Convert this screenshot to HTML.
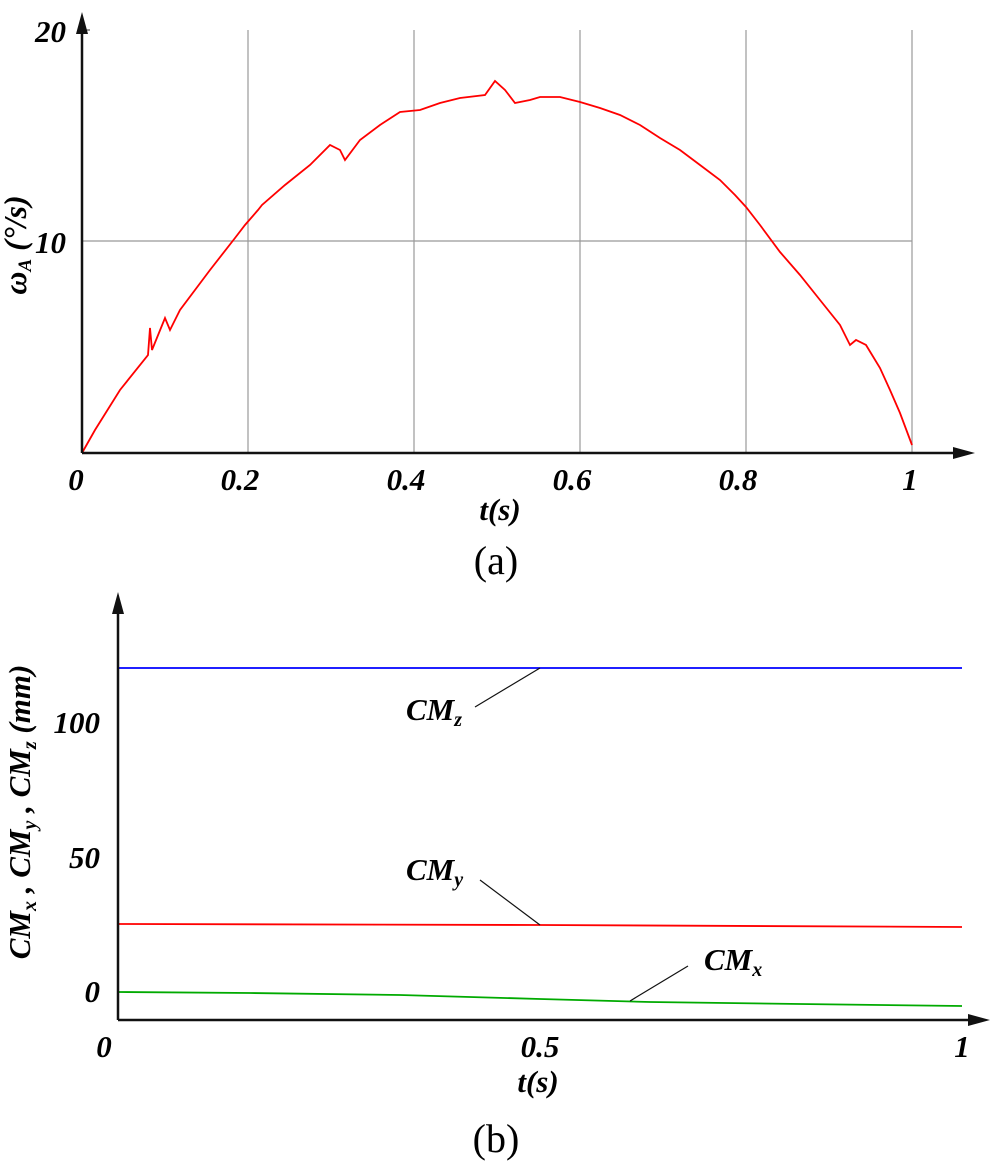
<!DOCTYPE html>
<html><head><style>body{margin:0;background:#fff}svg text{font-family:"Liberation Serif",serif;font-weight:bold;font-style:italic}</style></head>
<body>
<svg width="992" height="1169" xmlns="http://www.w3.org/2000/svg">
<defs><marker id="ar" markerUnits="userSpaceOnUse" markerWidth="22" markerHeight="14" refX="2" refY="7" orient="auto"><path d="M0,1 L22,7 L0,13 z" fill="#111"/></marker></defs>
<!-- chart a -->
<g stroke="#999" stroke-width="1.2">
<line x1="248" y1="30" x2="248" y2="453"/><line x1="414" y1="30" x2="414" y2="453"/><line x1="580" y1="30" x2="580" y2="453"/><line x1="746" y1="30" x2="746" y2="453"/><line x1="912" y1="30" x2="912" y2="453"/>
<line x1="82" y1="241" x2="912" y2="241"/>
</g>
<line x1="82" y1="30" x2="90" y2="30" stroke="#333"/>
<polyline fill="none" stroke="#f00" stroke-width="1.8" points="82,453 95,430 120,390 148,355 150,328 152,350 165,318 170,330 180,310 210,270 235,238 245,225 258,210 262,205 285,185 310,165 330,145 340,150 345,160 360,140 380,125 400,112 420,110 440,103 460,98 485,95 495,81 505,90 515,103 530,100 540,97 560,97 580,102 600,108 620,115 640,125 660,138 680,150 700,165 720,180 735,195 746,207 760,225 780,252 800,275 820,300 840,325 850,345 856,340 866,345 880,368 890,390 900,413 912,445"/>
<line x1="82" y1="453" x2="82" y2="32" stroke="#111" stroke-width="2.5" marker-end="url(#ar)"/>
<line x1="82" y1="453" x2="955" y2="453" stroke="#111" stroke-width="2.5" marker-end="url(#ar)"/>
<g font-size="31" text-anchor="end"><text x="66" y="42">20</text><text x="66" y="253">10</text></g>
<g font-size="31" text-anchor="middle"><text x="76" y="490">0</text><text x="240" y="490">0.2</text><text x="406" y="490">0.4</text><text x="572" y="490">0.6</text><text x="738" y="490">0.8</text><text x="910" y="490">1</text>
<text x="500" y="520">t(s)</text></g>
<text transform="translate(26,245) rotate(-90)" font-size="32" text-anchor="middle">ω<tspan font-size="19" dy="5">A</tspan><tspan dy="-5"> (°/s)</tspan></text>
<text x="496" y="574" font-size="40" text-anchor="middle" style="font-weight:normal;font-style:normal">(a)</text>
<!-- chart b -->
<line x1="118" y1="668" x2="962" y2="668" stroke="#00f" stroke-width="1.8"/>
<polyline fill="none" stroke="#f00" stroke-width="1.8" points="118,924 540,925 962,927"/>
<polyline fill="none" stroke="#0a0" stroke-width="1.8" points="118,992 250,993 400,995 540,999 650,1002 800,1004 962,1006"/>
<g stroke="#111" stroke-width="1.2"><line x1="475" y1="707" x2="540" y2="668"/><line x1="480" y1="880" x2="540" y2="925"/><line x1="688" y1="966" x2="630" y2="1001"/></g>
<line x1="118" y1="1020" x2="118" y2="612" stroke="#111" stroke-width="2.5" marker-end="url(#ar)"/>
<line x1="118" y1="1020" x2="970" y2="1020" stroke="#111" stroke-width="2.5" marker-end="url(#ar)"/>
<g font-size="31" text-anchor="end"><text x="100" y="733">100</text><text x="100" y="868">50</text><text x="100" y="1002">0</text></g>
<g font-size="31" text-anchor="middle"><text x="104" y="1057">0</text><text x="540" y="1057">0.5</text><text x="962" y="1057">1</text><text x="538" y="1092">t(s)</text></g>
<g font-size="31"><text x="406" y="720">CM<tspan font-size="20" dy="6">z</tspan></text><text x="406" y="880">CM<tspan font-size="20" dy="6">y</tspan></text><text x="704" y="970">CM<tspan font-size="20" dy="6">x</tspan></text></g>
<text transform="translate(30,812) rotate(-90)" font-size="31" text-anchor="middle">CM<tspan font-size="20" dy="6">x</tspan><tspan dy="-6"> , CM</tspan><tspan font-size="20" dy="6">y</tspan><tspan dy="-6"> , CM</tspan><tspan font-size="20" dy="6">z</tspan><tspan dy="-6"> (mm)</tspan></text>
<text x="496" y="1152" font-size="40" text-anchor="middle" style="font-weight:normal;font-style:normal">(b)</text>
</svg>
</body></html>
